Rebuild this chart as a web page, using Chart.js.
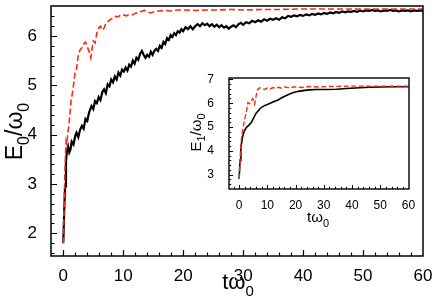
<!DOCTYPE html>
<html>
<head>
<meta charset="utf-8">
<script src="https://cdn.jsdelivr.net/npm/chart.js@4.4.0/dist/chart.umd.min.js"></script>
<style>
  html, body { margin: 0; padding: 0; background: #fff; }
  #wrap { position: relative; width: 436px; height: 308px; }
  #main { position: absolute; left: 0; top: 0; }
  #inset { position: absolute; left: 180px; top: 68px; }
</style>
</head>
<body>
<div id="wrap">
  <canvas id="main" width="436" height="308"></canvas>
  <canvas id="inset" width="246" height="170"></canvas>
</div>
<script>
'use strict';

// ---- datos ----
const mainXTicks = [0, 10, 20, 30, 40, 50, 60];
const mainYTicks = [2, 3, 4, 5, 6];
const insetXTicks = [0, 10, 20, 30, 40, 50, 60];
const insetYTicks = [3, 4, 5, 6, 7];

// curva negra (continua), panel principal
const mainBlackT = [0, 0.15, 0.3, 0.45, 0.6, 0.8, 1.0, 1.2, 1.4, 1.7, 2.0, 2.2, 2.5, 2.8, 3.1, 3.4, 3.7, 4.0, 4.3, 4.7,
  5.0, 5.3, 5.6, 5.9, 6.2, 6.5, 6.8, 7.1, 7.4, 7.7, 8.0, 8.3, 8.6, 8.9, 9.2, 9.5, 9.8, 10.1, 10.4, 10.7,
  11.0, 11.3, 11.6, 11.9, 12.2, 12.5, 12.8, 13.1, 13.4, 13.7, 14.0, 14.3, 14.6, 14.9, 15.2, 15.5, 15.8, 16.1, 16.4, 16.7,
  17.0, 17.3, 17.6, 17.9, 18.2, 18.5, 18.8, 19.1, 19.4, 19.7, 20.0, 20.4, 20.8, 21.2, 21.6, 22.0, 22.4, 22.8, 23.2, 23.6,
  24.0, 24.4, 24.8, 25.2, 25.6, 26.0, 26.4, 26.8, 27.2, 27.6, 28.0, 28.4, 28.8, 29.2, 29.6, 30.0, 30.5, 31.0, 31.5, 32.0,
  32.5, 33.0, 33.5, 34.0, 34.5, 35.0, 35.5, 36.0, 36.5, 37.0, 37.5, 38.0, 38.5, 39.0, 39.5, 40.0, 40.5, 41.0, 41.5, 42.0,
  42.5, 43.0, 43.5, 44.0, 44.5, 45.0, 45.5, 46.0, 46.5, 47.0, 47.5, 48.0, 48.5, 49.0, 49.5, 50.0, 50.5, 51.0, 51.5, 52.0,
  52.5, 53.0, 53.5, 54.0, 54.5, 55.0, 55.5, 56.0, 56.5, 57.0, 57.5, 58.0, 58.5, 59.0, 59.5, 60.0];
const mainBlackE = [1.80, 2.45, 2.95, 3.45, 3.66, 3.76, 3.64, 3.70, 3.86, 3.80, 3.98, 4.04, 3.95, 4.10, 4.18, 4.12, 4.32, 4.28, 4.45, 4.58,
  4.52, 4.68, 4.64, 4.76, 4.70, 4.86, 4.92, 4.84, 5.02, 4.98, 5.12, 5.06, 5.18, 5.12, 5.26, 5.20, 5.32, 5.28, 5.36, 5.30,
  5.42, 5.38, 5.50, 5.44, 5.56, 5.52, 5.64, 5.70, 5.62, 5.56, 5.62, 5.58, 5.68, 5.62, 5.70, 5.74, 5.70, 5.80, 5.76, 5.88,
  5.84, 5.96, 5.92, 6.02, 5.98, 6.06, 6.02, 6.10, 6.07, 6.14, 6.10, 6.18, 6.14, 6.20, 6.14, 6.20, 6.24, 6.20, 6.26, 6.22,
  6.25, 6.20, 6.24, 6.19, 6.23, 6.18, 6.22, 6.17, 6.20, 6.15, 6.19, 6.22, 6.18, 6.24, 6.27, 6.23, 6.28, 6.26, 6.31, 6.28,
  6.32, 6.29, 6.34, 6.31, 6.35, 6.33, 6.36, 6.33, 6.38, 6.36, 6.41, 6.39, 6.42, 6.40, 6.43, 6.41, 6.44, 6.42, 6.45, 6.43,
  6.46, 6.44, 6.47, 6.45, 6.48, 6.46, 6.49, 6.47, 6.50, 6.48, 6.50, 6.49, 6.51, 6.49, 6.52, 6.50, 6.52, 6.51, 6.53, 6.51,
  6.52, 6.50, 6.52, 6.51, 6.53, 6.51, 6.52, 6.50, 6.52, 6.51, 6.52, 6.50, 6.52, 6.51, 6.52, 6.51];

// curva roja (discontinua), panel principal
const mainRedT = [0, 0.15, 0.3, 0.45, 0.6, 0.75, 0.9, 1.1, 1.3, 1.5, 1.7, 1.95, 2.2, 2.5, 2.8, 3.1, 3.4, 3.7, 4.0, 4.2,
  4.4, 4.6, 4.8, 5.0, 5.3, 5.6, 5.9, 6.2, 6.5, 6.8, 7.1, 7.5, 7.9, 8.3, 8.7, 9.1, 9.5, 10, 10.5, 11,
  11.5, 12, 12.5, 13, 13.5, 14, 14.5, 15, 15.5, 16, 17, 18, 19, 20, 22, 24, 26, 28, 30, 33,
  36, 40, 45, 50, 55, 60];
const mainRedE = [1.80, 2.60, 3.40, 3.86, 3.80, 4.05, 4.15, 4.40, 4.70, 4.82, 5.00, 5.25, 5.32, 5.62, 5.72, 5.76, 5.84, 5.88, 5.78, 5.72,
  5.66, 5.56, 5.74, 5.90, 5.86, 6.06, 6.16, 6.20, 6.12, 6.16, 6.26, 6.30, 6.34, 6.36, 6.40, 6.39, 6.42, 6.43, 6.41, 6.44,
  6.43, 6.46, 6.48, 6.50, 6.52, 6.49, 6.47, 6.49, 6.50, 6.51, 6.52, 6.51, 6.53, 6.53, 6.52, 6.53, 6.53, 6.54, 6.53, 6.54,
  6.54, 6.55, 6.55, 6.55, 6.55, 6.55];

// recuadro interior
const insetBlackT = [0, 0.3, 0.6, 0.96, 1.3, 1.8, 2.5, 3.2, 4.3, 5.0, 6.0, 7.0, 7.8, 9.0, 10.2, 11.4, 12.6, 13.8, 14.9, 16.0,
  17.3, 18.5, 19.6, 21.0, 23.2, 25.0, 27.3, 30, 34.5, 38, 42.8, 46, 50, 55, 60];
const insetBlackE = [2.83, 3.60, 4.15, 4.40, 4.64, 4.82, 4.98, 5.05, 5.19, 5.35, 5.58, 5.72, 5.82, 5.90, 5.96, 6.02, 6.08, 6.14, 6.22, 6.28,
  6.36, 6.42, 6.46, 6.50, 6.54, 6.56, 6.58, 6.58, 6.59, 6.62, 6.65, 6.67, 6.68, 6.69, 6.69];
const insetRedT = [0, 0.4, 0.7, 0.96, 1.3, 1.9, 2.5, 3.1, 3.7, 4.3, 4.8, 5.2, 5.5, 6.0, 6.6, 7.2, 8.0, 9.0, 10, 11,
  12, 13, 14, 15, 16, 18, 20, 22, 25, 28, 31, 35, 40, 45, 50, 55, 60];
const insetRedE = [2.83, 3.80, 4.40, 4.64, 4.92, 5.30, 5.60, 6.03, 5.98, 6.10, 6.20, 6.08, 5.96, 6.30, 6.58, 6.65, 6.62, 6.58, 6.64, 6.60,
  6.66, 6.62, 6.67, 6.63, 6.68, 6.65, 6.69, 6.66, 6.70, 6.68, 6.70, 6.71, 6.72, 6.72, 6.72, 6.72, 6.72];

// titulos de ejes (texto base + subindices)
const mainXTitle = [{ t: 't\u03c9' }, { t: '0', sub: true }];
const mainYTitle = [{ t: 'E' }, { t: '0', sub: true }, { t: '/\u03c9' }, { t: '0', sub: true }];
const insetXTitle = [{ t: 't\u03c9' }, { t: '0', sub: true }];
const insetYTitle = [{ t: 'E' }, { t: '1', sub: true }, { t: '/\u03c9' }, { t: '0', sub: true }];

const FONT = '"Liberation Sans", Arial, Helvetica, sans-serif';
const RED = '#ff2a12';

function toPoints(ts, es) {
    return ts.map(function(t, i) { return { x: t, y: es[i] }; });
}

function drawLabel(ctx, parts, x, y, size, rotate) {
    const big = size + 'px ' + FONT;
    const small = Math.round(size * 0.7) + 'px ' + FONT;
    ctx.save();
    ctx.translate(x, y);
    if (rotate) ctx.rotate(-Math.PI / 2);
    ctx.fillStyle = '#000';
    ctx.textBaseline = 'alphabetic';
    ctx.textAlign = 'left';
    let total = 0;
    parts.forEach(function(p) {
        ctx.font = p.sub ? small : big;
        total += ctx.measureText(p.t).width;
    });
    let cx = -total / 2;
    parts.forEach(function(p) {
        ctx.font = p.sub ? small : big;
        ctx.fillText(p.t, cx, p.sub ? size * 0.3 : 0);
        cx += ctx.measureText(p.t).width;
    });
    ctx.restore();
}

// Marco, marcas hacia dentro y titulos
const frameTicks = {
    id: 'frameTicks',
    afterDraw: function(chart, args, o) {
        const ctx = chart.ctx;
        const a = chart.chartArea;
        const xs = chart.scales.x;
        const ys = chart.scales.y;
        ctx.save();
        ctx.strokeStyle = '#000';
        ctx.lineWidth = o.tickWidth;
        ctx.beginPath();
        for (let i = Math.ceil(xs.min / o.xMinor); i * o.xMinor <= xs.max + 1e-9; i++) {
            const v = i * o.xMinor;
            const px = Math.round(xs.getPixelForValue(v)) + 0.5;
            if (px < a.left + 1.5 || px > a.right - 1.5) continue;
            const major = Math.abs(v / o.xMajor - Math.round(v / o.xMajor)) < 1e-6;
            ctx.moveTo(px, a.bottom);
            ctx.lineTo(px, a.bottom - (major ? o.majorLen : o.minorLen));
        }
        for (let i = Math.ceil(ys.min / o.yMinor); i * o.yMinor <= ys.max + 1e-9; i++) {
            const v = i * o.yMinor;
            const py = Math.round(ys.getPixelForValue(v)) + 0.5;
            if (py < a.top + 1.5 || py > a.bottom - 1.5) continue;
            const major = Math.abs(v / o.yMajor - Math.round(v / o.yMajor)) < 1e-6;
            ctx.moveTo(a.left, py);
            ctx.lineTo(a.left + (major ? o.majorLen : o.minorLen), py);
        }
        ctx.stroke();
        ctx.lineWidth = o.frameWidth;
        ctx.strokeRect(a.left, a.top, a.right - a.left, a.bottom - a.top);
        ctx.restore();
        drawLabel(ctx, o.xTitle, o.xTitlePos[0], o.xTitlePos[1], o.titleSize[0], false);
        drawLabel(ctx, o.yTitle, o.yTitlePos[0], o.yTitlePos[1], o.titleSize[1], true);
    }
};

function noEdgePadding(s) {
    s.paddingTop = 0;
    s.paddingBottom = 0;
    s.paddingLeft = 0;
    s.paddingRight = 0;
}

function makeChart(id, cfg) {
    return new Chart(document.getElementById(id), {
        type: 'line',
        data: {
            datasets: [{
                data: toPoints(cfg.redT, cfg.redE),
                borderColor: RED,
                borderWidth: cfg.redWidth,
                borderDash: cfg.dash,
                pointRadius: 0,
                tension: 0
            }, {
                data: toPoints(cfg.blackT, cfg.blackE),
                borderColor: '#000',
                borderWidth: cfg.blackWidth,
                pointRadius: 0,
                tension: 0
            }]
        },
        options: {
            responsive: false,
            animation: false,
            devicePixelRatio: 1,
            layout: { padding: cfg.padding },
            plugins: {
                legend: { display: false },
                tooltip: { enabled: false },
                frameTicks: cfg.frame
            },
            scales: {
                x: {
                    type: 'linear',
                    min: cfg.xRange[0],
                    max: cfg.xRange[1],
                    grid: { display: false },
                    border: { display: false },
                    ticks: {
                        color: '#000',
                        font: { family: FONT, size: cfg.tickSize },
                        padding: cfg.xPad,
                        maxRotation: 0
                    },
                    afterBuildTicks: function(s) { s.ticks = cfg.xTicks.map(function(v) { return { value: v }; }); },
                    afterFit: function(s) { s.height = cfg.xAxisH; noEdgePadding(s); }
                },
                y: {
                    type: 'linear',
                    min: cfg.yRange[0],
                    max: cfg.yRange[1],
                    grid: { display: false },
                    border: { display: false },
                    ticks: {
                        color: '#000',
                        font: { family: FONT, size: cfg.tickSize },
                        padding: cfg.yPad
                    },
                    afterBuildTicks: function(s) { s.ticks = cfg.yTicks.map(function(v) { return { value: v }; }); },
                    afterFit: function(s) { s.width = cfg.yAxisW; noEdgePadding(s); }
                }
            }
        },
        plugins: [frameTicks]
    });
}

makeChart('main', {
    redT: mainRedT, redE: mainRedE, blackT: mainBlackT, blackE: mainBlackE,
    redWidth: 1.6, blackWidth: 2.2, dash: [6, 3],
    padding: { top: 6, right: 13, left: 0, bottom: 0 },
    xRange: [-2.05, 60], yRange: [1.54, 6.61],
    xTicks: mainXTicks, yTicks: mainYTicks,
    tickSize: 17, xPad: 2, yPad: 6, xAxisH: 52, yAxisW: 51,
    frame: {
        tickWidth: 1.2, frameWidth: 1.5, majorLen: 6, minorLen: 3.5,
        xMinor: 2, xMajor: 10, yMinor: 0.2, yMajor: 1,
        xTitle: mainXTitle, yTitle: mainYTitle,
        xTitlePos: [238, 289], yTitlePos: [22, 131.5], titleSize: [22, 23]
    }
});

makeChart('inset', {
    redT: insetRedT, redE: insetRedE, blackT: insetBlackT, blackE: insetBlackE,
    redWidth: 1.4, blackWidth: 1.6, dash: [5, 2.5],
    padding: { top: 10, right: 17, left: 0, bottom: 0 },
    xRange: [-3.6, 60.2], yRange: [2.4, 7.06],
    xTicks: insetXTicks, yTicks: insetYTicks,
    tickSize: 12, xPad: 1, yPad: 7, xAxisH: 49, yAxisW: 49,
    frame: {
        tickWidth: 1, frameWidth: 1.4, majorLen: 4, minorLen: 2.2,
        xMinor: 2, xMajor: 10, yMinor: 0.2, yMajor: 1,
        xTitle: insetXTitle, yTitle: insetYTitle,
        xTitlePos: [138, 154], yTitlePos: [20.5, 64.5], titleSize: [15, 15]
    }
});
</script>
</body>
</html>
